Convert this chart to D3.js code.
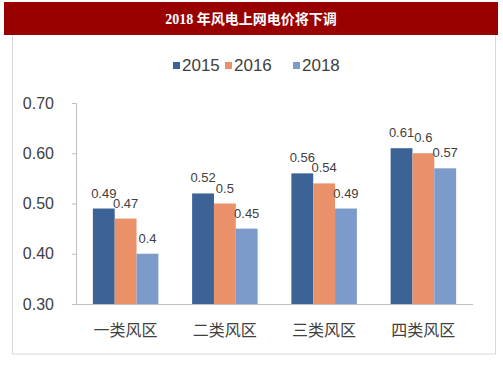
<!DOCTYPE html>
<html><head><meta charset="utf-8">
<script src="https://cdn.jsdelivr.net/npm/d3@7"></script>
<style>body{margin:0;background:#fff}svg{display:block}</style>
</head><body>
<script>
const title = "2018 年风电上网电价将下调";
const categories = ["一类风区","二类风区","三类风区","四类风区"];
const seriesNames = ["2015","2016","2018"];
const v2015 = [0.49,0.52,0.56,0.61];
const v2016 = [0.47,0.5,0.54,0.6];
const v2018 = [0.4,0.45,0.49,0.57];
const yTicks = [0.30,0.40,0.50,0.60,0.70];
const colors = ["#3B6396","#EA916A","#7C9BCB"];

const W=503,H=378;
const svg=d3.select("body").append("svg").attr("width",W).attr("height",H);
svg.append("rect").attr("x",0).attr("y",0).attr("width",W).attr("height",H).attr("fill","#fff");
// frame
svg.append("rect").attr("x",12.5).attr("y",30).attr("width",483).attr("height",324)
  .attr("fill","none").attr("stroke","#d9d9d9");
// title bar
svg.append("rect").attr("x",4).attr("y",2).attr("width",494).attr("height",33).attr("fill","#990000");
svg.append("text").attr("x",251).attr("y",24).attr("text-anchor","middle")
  .attr("fill","#fff").attr("font-weight","bold").attr("font-size",14)
  .attr("font-family","'Liberation Serif','Noto Sans CJK SC',serif").text(title);

const x0=d3.scaleBand().domain(categories).range([76,473]).paddingInner(0.34).paddingOuter(0.17);
const x1=d3.scaleBand().domain(seriesNames).range([0,x0.bandwidth()]);
const y=d3.scaleLinear().domain([0.3,0.7]).range([304,103]);

const series=[v2015,v2016,v2018];
const g=svg.append("g");
// axis
const yAxis=d3.axisLeft(y).tickValues(yTicks).tickFormat(d3.format(".2f")).tickSize(4).tickPadding(18);
const ya=svg.append("g").attr("transform","translate(76,0)").call(yAxis);
ya.select(".domain").attr("stroke","#bfbfbf").attr("d","M-4,103.5H0.5V304");
ya.selectAll(".tick line").attr("stroke","#bfbfbf");
ya.selectAll(".tick text").attr("fill","#404040").attr("font-size",16)
  .attr("font-family","'Liberation Sans',Arial,sans-serif");
svg.append("line").attr("x1",76).attr("x2",473).attr("y1",304.5).attr("y2",304.5).attr("stroke","#bfbfbf");

series.forEach((vals,si)=>{
  categories.forEach((c,ci)=>{
    const bx=x0(c)+x1(seriesNames[si]);
    g.append("rect").attr("x",bx).attr("y",y(vals[ci])).attr("width",x1.bandwidth())
      .attr("height",y(0.3)-y(vals[ci])).attr("fill",colors[si]);
    g.append("text").attr("x",bx+x1.bandwidth()/2).attr("y",y(vals[ci])-11)
      .attr("text-anchor","middle").attr("fill","#404040").attr("font-size",13)
      .attr("font-family","'Liberation Sans',Arial,sans-serif").text(vals[ci]);
  });
});
// category labels
categories.forEach(c=>{
  svg.append("text").attr("x",x0(c)+x0.bandwidth()/2).attr("y",336).attr("text-anchor","middle")
    .attr("fill","#404040").attr("font-size",16).attr("font-family","'Noto Sans CJK SC',sans-serif").text(c);
});
// legend
const lx=[173,225,293];
seriesNames.forEach((s,i)=>{
  svg.append("rect").attr("x",lx[i]).attr("y",62).attr("width",7).attr("height",7).attr("fill",colors[i]);
  svg.append("text").attr("x",lx[i]+9).attr("y",71).attr("fill","#404040").attr("font-size",17)
    .attr("font-family","'Liberation Sans',Arial,sans-serif").text(s);
});
</script>
</body></html>
